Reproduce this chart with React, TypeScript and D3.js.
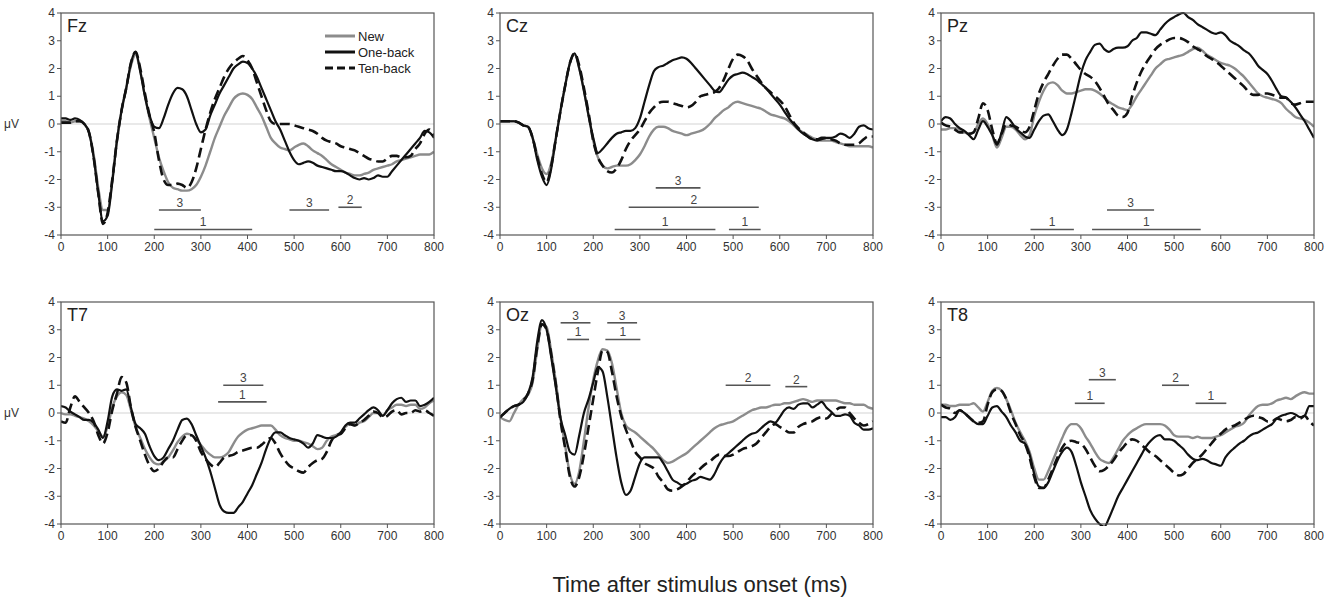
import React from "react";
import * as d3 from "d3";

// sampling grid of the traces, ms
const TIMES = d3.range(0, 801, 10);

const FZ_NEW = [
  0.1, 0.1, 0.05, 0.1, 0.1, 0.0, -0.3, -1.1, -2.3, -3.1,
  -3.1, -2.0, -0.6, 0.5, 1.3, 2.1, 2.5, 1.9, 1.0, 0.2,
  -0.5, -1.2, -1.7, -2.1, -2.3, -2.35, -2.4, -2.4, -2.35, -2.2,
  -1.9, -1.5, -1.0, -0.5, -0.1, 0.3, 0.6, 0.9, 1.05, 1.1,
  1.05, 0.9, 0.6, 0.3, -0.1, -0.5, -0.7, -0.85, -0.9, -0.95,
  -0.85, -0.75, -0.7, -0.8, -0.95, -1.05, -1.15, -1.3, -1.45, -1.55,
  -1.65, -1.75, -1.8, -1.85, -1.85, -1.8, -1.75, -1.65, -1.6, -1.55,
  -1.5, -1.45, -1.35, -1.3, -1.25, -1.2, -1.15, -1.1, -1.1, -1.1,
  -1.0,
];
const FZ_ONE = [
  0.2, 0.2, 0.15, 0.2, 0.15, 0.0, -0.3, -1.2, -2.5, -3.5,
  -3.3, -2.1, -0.6, 0.5, 1.3, 2.2, 2.6, 1.9, 1.0, 0.3,
  -0.1, -0.15, 0.2, 0.7, 1.1, 1.3, 1.25, 1.0, 0.5, 0.0,
  -0.3, -0.2, 0.3, 0.7, 1.1, 1.4, 1.7, 2.0, 2.15, 2.25,
  2.2, 2.0, 1.7, 1.3, 0.9, 0.5, 0.1, -0.2, -0.6, -1.0,
  -1.3, -1.45, -1.4, -1.35, -1.4, -1.5, -1.55, -1.6, -1.65, -1.7,
  -1.7, -1.75, -1.85, -1.95, -2.0, -1.95, -2.0, -1.95, -1.85, -1.9,
  -1.9, -1.7, -1.5, -1.3, -1.1, -0.9, -0.7, -0.5, -0.25, -0.3,
  -0.5,
];
const FZ_TEN = [
  0.05, 0.05, 0.05, 0.1, 0.1, 0.0, -0.3, -1.2, -2.5, -3.6,
  -3.2, -2.0, -0.6, 0.5, 1.3, 2.2, 2.6, 2.0, 1.1, 0.3,
  -0.3, -1.3, -2.0, -2.2, -2.2, -2.15, -2.2, -2.3, -2.1, -1.6,
  -0.9, -0.2, 0.4, 0.9, 1.3, 1.7, 2.0, 2.2, 2.35, 2.45,
  2.3, 2.0, 1.5, 1.0, 0.5, 0.1, 0.0, 0.0, 0.0, 0.0,
  -0.05, -0.1, -0.15, -0.2, -0.25, -0.35, -0.5, -0.6, -0.65, -0.7,
  -0.8, -0.85, -0.9, -0.95, -1.05, -1.15, -1.25, -1.3, -1.35, -1.35,
  -1.25, -1.15, -1.15, -1.2, -1.2, -1.15, -0.9, -0.7, -0.35, -0.2,
  -0.45,
];

const CZ_NEW = [
  0.1, 0.1, 0.1, 0.1, 0.05, -0.05, -0.1, -0.5, -1.1, -1.6,
  -1.8, -1.4, -0.5, 0.5, 1.4, 2.2, 2.5, 2.0, 1.2, 0.3,
  -0.6, -1.2, -1.5, -1.6, -1.55, -1.5, -1.5, -1.5, -1.45, -1.3,
  -1.1, -0.8, -0.45, -0.2, -0.1, -0.1, -0.15, -0.25, -0.3, -0.35,
  -0.4, -0.35, -0.3, -0.25, -0.15, 0.0, 0.2, 0.35, 0.5, 0.6,
  0.75, 0.8, 0.75, 0.7, 0.65, 0.6, 0.55, 0.45, 0.35, 0.3,
  0.25, 0.2, 0.1, -0.05, -0.2, -0.3, -0.4, -0.5, -0.55, -0.6,
  -0.6, -0.6, -0.65, -0.7, -0.75, -0.8, -0.8, -0.8, -0.8, -0.8,
  -0.85,
];
const CZ_ONE = [
  0.1, 0.1, 0.1, 0.1, 0.05, -0.05, -0.1, -0.5, -1.3, -1.9,
  -2.2, -1.6, -0.5, 0.5, 1.4, 2.2, 2.55, 2.0, 1.2, 0.3,
  -0.5, -1.05, -0.9, -0.7, -0.5, -0.35, -0.3, -0.25, -0.25, -0.15,
  0.2, 0.8, 1.4, 1.9, 2.05, 2.1, 2.2, 2.3, 2.35, 2.4,
  2.35, 2.2, 2.0, 1.8, 1.6, 1.4, 1.2, 1.15, 1.35, 1.6,
  1.75, 1.8, 1.85, 1.8, 1.7, 1.6, 1.45, 1.3, 1.1, 0.9,
  0.7, 0.45, 0.2, 0.0, -0.2, -0.35, -0.45, -0.55, -0.6, -0.55,
  -0.5, -0.5, -0.45, -0.35, -0.4, -0.5, -0.35, -0.1, -0.05, -0.15,
  -0.2,
];
const CZ_TEN = [
  0.1, 0.1, 0.1, 0.1, 0.05, -0.05, -0.1, -0.5, -1.2, -1.8,
  -2.1, -1.5, -0.5, 0.5, 1.4, 2.2, 2.55, 2.1, 1.3, 0.4,
  -0.6, -1.2, -1.5, -1.7, -1.75, -1.6, -1.3, -0.9, -0.6, -0.4,
  -0.2, 0.1, 0.4, 0.6, 0.75, 0.8, 0.8, 0.75, 0.7, 0.65,
  0.6, 0.65, 0.8, 1.0, 1.05, 1.1, 1.15, 1.3, 1.6, 2.0,
  2.35, 2.5, 2.45, 2.3, 2.0, 1.75, 1.5, 1.3, 1.15, 1.0,
  0.85, 0.65, 0.35, 0.05, -0.15, -0.3, -0.45, -0.55, -0.55, -0.5,
  -0.5, -0.55, -0.6, -0.7, -0.75, -0.75, -0.75, -0.7, -0.55, -0.45,
  -0.45,
];

const PZ_NEW = [
  -0.2, -0.2, -0.15, -0.15, -0.2, -0.3, -0.35, -0.3, 0.0, 0.2,
  0.0, -0.4, -0.85, -0.5, -0.1, -0.1, -0.2, -0.4, -0.55, -0.4,
  0.3, 0.8, 1.2, 1.45, 1.5, 1.4, 1.2, 1.1, 1.1, 1.15,
  1.2, 1.25, 1.25, 1.2, 1.1, 0.95, 0.8, 0.7, 0.6, 0.55,
  0.5, 0.7, 1.0, 1.25, 1.5, 1.75, 2.0, 2.15, 2.3, 2.35,
  2.4, 2.45, 2.5, 2.6, 2.7, 2.75, 2.65, 2.5, 2.4, 2.3,
  2.2, 2.15, 2.1, 2.0, 1.85, 1.7, 1.5, 1.3, 1.1, 1.0,
  0.95, 0.9, 0.85, 0.75, 0.55, 0.4, 0.25, 0.2, 0.15, 0.05,
  -0.1,
];
const PZ_ONE = [
  0.1, 0.25, 0.2, 0.0, -0.15, -0.25, -0.4, -0.55, -0.2, 0.1,
  -0.1, -0.4, -0.75, -0.3, 0.25, 0.1, -0.15, -0.3, -0.45, -0.5,
  -0.2, 0.1, 0.3, 0.35, 0.1, -0.2, -0.4, -0.2, 0.4, 1.1,
  1.8, 2.3, 2.6, 2.85, 2.9, 2.7, 2.6, 2.7, 2.75, 2.75,
  2.8, 3.0, 3.1, 3.3, 3.3, 3.25, 3.2, 3.4, 3.6, 3.75,
  3.85, 3.95, 4.0, 3.85, 3.75, 3.6, 3.5, 3.4, 3.3, 3.25,
  3.3, 3.2, 3.0, 2.9, 2.8, 2.65, 2.55, 2.35, 2.1, 1.95,
  1.8, 1.55, 1.25, 1.0, 0.95, 0.8, 0.6, 0.35, 0.1, -0.2,
  -0.5,
];
const PZ_TEN = [
  0.05, -0.05, -0.1, -0.2, -0.3, -0.3, -0.35, -0.3, 0.2, 0.75,
  0.5, -0.2, -0.7, -0.35, 0.0, -0.05, -0.1, -0.2, -0.3, -0.1,
  0.5, 1.1, 1.5, 1.8, 2.1, 2.35, 2.5, 2.5, 2.35, 2.15,
  1.95, 1.8, 1.7, 1.55, 1.3, 1.0, 0.7, 0.5, 0.3, 0.25,
  0.4, 1.0, 1.5, 1.9, 2.2, 2.45, 2.7, 2.85, 2.95, 3.05,
  3.1, 3.1, 3.05, 2.95, 2.8, 2.7, 2.6, 2.45, 2.35, 2.25,
  2.1, 1.95, 1.8, 1.65, 1.5, 1.35, 1.15, 1.05, 1.05, 1.1,
  1.1, 1.05, 1.0, 0.95, 0.95, 0.75, 0.7, 0.75, 0.8, 0.8,
  0.8,
];

const T7_NEW = [
  0.0, -0.05, -0.05, -0.1, -0.15, -0.2, -0.3, -0.45, -0.65, -0.85,
  -0.5, 0.2, 0.6, 0.75, 0.65, 0.1, -0.5, -0.9, -1.3, -1.6,
  -1.8, -1.85, -1.75, -1.6, -1.35, -1.05, -0.85, -0.75, -0.8, -0.95,
  -1.15, -1.35, -1.5, -1.6, -1.6, -1.55, -1.4, -1.1, -0.85, -0.7,
  -0.6, -0.55, -0.5, -0.45, -0.45, -0.45, -0.6, -0.8, -0.9, -0.95,
  -1.0, -1.0, -1.05, -1.1, -1.2, -1.3, -1.25, -1.0, -0.85, -0.8,
  -0.7, -0.5, -0.4, -0.45, -0.35, -0.3, -0.15, 0.0, 0.0, -0.1,
  0.1, 0.2, 0.3, 0.3, 0.25, 0.3, 0.3, 0.15, 0.2, 0.35,
  0.45,
];
const T7_ONE = [
  0.25, 0.2, 0.05, -0.05, -0.15, -0.25, -0.25, -0.35, -0.6, -0.9,
  -0.3, 0.6, 0.85, 0.8, 0.85, 0.2, -0.4, -0.55, -0.75, -1.2,
  -1.55, -1.7, -1.6, -1.3, -1.0, -0.6, -0.25, -0.2, -0.4, -0.8,
  -1.2, -1.6, -2.1, -2.7, -3.3, -3.55, -3.6, -3.6, -3.4, -3.2,
  -2.9, -2.6, -2.2, -1.8, -1.3, -0.9, -0.7, -0.7, -0.8, -0.9,
  -0.95, -1.0, -1.1, -1.25, -1.1, -0.8, -0.85, -0.9, -0.9, -0.85,
  -0.7, -0.45, -0.35, -0.35, -0.2, -0.05, 0.1, 0.2, 0.1, -0.1,
  0.1, 0.35, 0.5, 0.55, 0.4, 0.45, 0.45, 0.25, 0.3, 0.4,
  0.55,
];
const T7_TEN = [
  -0.3, -0.35, 0.2, 0.6, 0.4, 0.2, 0.0, -0.3, -0.8, -1.1,
  -0.7, 0.1, 0.7, 1.3, 1.1, 0.2, -0.5, -1.0, -1.5, -1.9,
  -2.1, -2.0, -1.75, -1.6, -1.6, -1.3, -1.0, -0.8, -0.8, -1.0,
  -1.4, -1.65, -1.85, -1.95, -1.8, -1.6, -1.55, -1.5, -1.4, -1.35,
  -1.3, -1.25, -1.25, -1.15, -1.0, -0.9, -1.1, -1.45, -1.7, -1.9,
  -2.0, -2.1, -2.15, -1.95, -1.8, -1.7, -1.65, -1.4, -1.0, -0.8,
  -0.75, -0.55, -0.4, -0.45, -0.35, -0.25, -0.1, 0.05, 0.0, -0.15,
  -0.1, 0.05, 0.1, -0.05, 0.0, 0.0, 0.1, 0.05, 0.1, 0.0,
  -0.1,
];

const OZ_NEW = [
  -0.15, -0.25, -0.3, 0.0, 0.3, 0.5, 0.65, 1.1, 2.3, 3.2,
  3.1, 2.2, 1.1, -0.2, -1.2, -2.2, -2.55, -2.1, -1.0, 0.2,
  1.2, 1.9, 2.3, 2.25, 1.8, 0.9, 0.0, -0.45, -0.6, -0.7,
  -0.85, -1.0, -1.15, -1.3, -1.5, -1.7, -1.8, -1.75, -1.65, -1.55,
  -1.45, -1.3, -1.15, -1.0, -0.85, -0.7, -0.55, -0.45, -0.4, -0.35,
  -0.3, -0.2, -0.1, 0.0, 0.1, 0.15, 0.2, 0.2, 0.25, 0.3,
  0.3, 0.35, 0.35, 0.4, 0.45, 0.5, 0.45, 0.4, 0.45, 0.45,
  0.45, 0.45, 0.45, 0.4, 0.35, 0.35, 0.3, 0.3, 0.3, 0.2,
  0.15,
];
const OZ_ONE = [
  -0.15, 0.0, 0.15, 0.25, 0.3, 0.4, 0.7, 1.3, 2.6, 3.35,
  3.0, 2.0, 0.9, -0.2, -0.8, -1.4, -1.5, -0.8, 0.0, 0.5,
  1.1, 1.65, 1.5, 0.6, -0.5, -1.6, -2.5, -2.95, -2.8, -2.3,
  -1.8, -1.6, -1.6, -1.6, -1.6, -1.8, -2.1, -2.4, -2.5, -2.6,
  -2.55, -2.45, -2.4, -2.3, -2.35, -2.4, -2.2, -1.85, -1.6, -1.45,
  -1.3, -1.15, -1.0, -0.85, -0.75, -0.7, -0.55, -0.4, -0.3, -0.35,
  -0.15, 0.1, 0.2, 0.15, 0.3, 0.35, 0.35, 0.2, 0.3, 0.4,
  0.2, 0.05, -0.1, -0.1, -0.05, -0.1, -0.35, -0.45, -0.6, -0.6,
  -0.55,
];
const OZ_TEN = [
  -0.15, 0.0, 0.15, 0.25, 0.3, 0.45, 0.7, 1.2, 2.4, 3.2,
  3.0, 2.1, 1.0, -0.3, -1.3, -2.3, -2.65, -2.3, -1.5, -0.5,
  0.5, 1.5, 2.25, 2.2, 1.5, 0.6, -0.1, -0.6, -1.0, -1.4,
  -1.6, -1.8, -1.9, -2.0, -2.3, -2.5, -2.75, -2.8, -2.75, -2.65,
  -2.5, -2.3, -2.15, -2.0, -1.85, -1.75, -1.6, -1.5, -1.55, -1.55,
  -1.5, -1.4, -1.3, -1.25, -1.2, -1.1, -0.9, -0.7, -0.5, -0.4,
  -0.5, -0.6, -0.7, -0.7, -0.5, -0.4, -0.35, -0.3, -0.2, -0.15,
  -0.2, -0.05, 0.1, 0.2, 0.2, 0.0, -0.2, -0.35, -0.45, -0.4,
  -0.3,
];

const T8_NEW = [
  0.3, 0.3, 0.25, 0.25, 0.3, 0.3, 0.3, 0.35, 0.2, 0.05,
  0.4, 0.8, 0.9, 0.8, 0.5, 0.1, -0.35, -0.7, -1.0, -1.4,
  -2.0, -2.4, -2.4, -2.1, -1.7, -1.3, -0.9, -0.55, -0.4, -0.4,
  -0.55, -0.85, -1.1, -1.4, -1.65, -1.75, -1.8, -1.6, -1.3, -1.0,
  -0.8, -0.65, -0.55, -0.45, -0.4, -0.4, -0.4, -0.4, -0.45, -0.6,
  -0.8, -0.85, -0.85, -0.85, -0.9, -0.85, -0.9, -0.9, -0.9, -0.85,
  -0.8, -0.7, -0.6, -0.5, -0.45, -0.35, -0.1, 0.1, 0.25, 0.3,
  0.3, 0.35, 0.45, 0.5, 0.55, 0.5, 0.6, 0.7, 0.75, 0.7,
  0.7,
];
const T8_ONE = [
  -0.15, -0.15, -0.25, -0.15, 0.1, 0.0, -0.15, -0.3, -0.4, -0.4,
  -0.1, 0.2, 0.25, 0.05, -0.15, -0.45, -0.7, -1.0, -1.1, -1.5,
  -2.2, -2.65, -2.7, -2.5, -2.1, -1.7, -1.4, -1.25, -1.4, -1.9,
  -2.5, -3.0, -3.5, -3.8, -4.0, -4.1, -3.8, -3.4, -3.0, -2.7,
  -2.4, -2.1, -1.8, -1.5, -1.2, -1.0, -0.85, -0.8, -0.95, -0.95,
  -1.0, -1.15, -1.3, -1.5, -1.65, -1.7, -1.65, -1.7, -1.8, -1.85,
  -1.9, -1.6, -1.4, -1.25, -1.1, -1.0, -0.85, -0.75, -0.7, -0.6,
  -0.5, -0.4, -0.2, -0.1, -0.05, 0.0, -0.05, -0.15, -0.1, 0.25,
  0.25,
];
const T8_TEN = [
  0.3, 0.2, 0.15, 0.0, 0.1, 0.0, -0.15, -0.3, -0.35, -0.3,
  0.3, 0.75, 0.85, 0.8, 0.5, 0.0, -0.4, -0.8, -1.1, -1.6,
  -2.3, -2.7, -2.7, -2.4, -2.0, -1.6, -1.25, -1.05, -1.0, -1.05,
  -1.1, -1.3, -1.6, -1.9, -2.1, -2.05, -1.9, -1.7, -1.45, -1.25,
  -1.05, -0.95, -1.0, -1.15, -1.3, -1.45, -1.55, -1.7, -1.85, -2.0,
  -2.15, -2.25, -2.2, -2.0, -1.8, -1.65, -1.5, -1.3, -1.1, -0.9,
  -0.75, -0.6, -0.5, -0.45, -0.35, -0.25, -0.15, -0.1, -0.15, -0.2,
  -0.3, -0.3, -0.2, -0.25, -0.3, -0.25, -0.15, -0.2, -0.1, -0.3,
  -0.45,
];

// significance bars: label, start ms, end ms, level in µV
const FZ_BARS = [
  ["3", 210, 300, -3.1], ["1", 200, 410, -3.8], ["3", 490, 575, -3.1], ["2", 595, 645, -3.0],
];
const CZ_BARS = [
  ["3", 334, 430, -2.3], ["2", 276, 555, -3.0], ["1", 246, 462, -3.8], ["1", 491, 559, -3.8],
];
const PZ_BARS = [["1", 192, 285, -3.8], ["3", 356, 457, -3.1], ["1", 324, 557, -3.8]];
const T7_BARS = [["3", 348, 434, 1.0], ["1", 337, 441, 0.4]];
const OZ_BARS = [
  ["3", 130, 194, 3.25], ["1", 144, 191, 2.65], ["3", 230, 294, 3.25], ["1", 226, 301, 2.65],
  ["2", 484, 580, 1.0], ["2", 612, 659, 0.95],
];
const T8_BARS = [["3", 317, 375, 1.2], ["1", 287, 351, 0.35], ["2", 474, 532, 1.0], ["1", 546, 612, 0.35]];

const LEGEND = ["New", "One-back", "Ten-back"];

const FONT = "'Liberation Sans', Arial, Helvetica, sans-serif";
const COL_X = [61, 500, 941];
const ROW_Y = [13, 302];
const PW = 373;
const PH = 222;

const PANELS = [
  { name: "Fz", col: 0, row: 0, nw: FZ_NEW, one: FZ_ONE, ten: FZ_TEN, bars: FZ_BARS },
  { name: "Cz", col: 1, row: 0, nw: CZ_NEW, one: CZ_ONE, ten: CZ_TEN, bars: CZ_BARS },
  { name: "Pz", col: 2, row: 0, nw: PZ_NEW, one: PZ_ONE, ten: PZ_TEN, bars: PZ_BARS },
  { name: "T7", col: 0, row: 1, nw: T7_NEW, one: T7_ONE, ten: T7_TEN, bars: T7_BARS },
  { name: "Oz", col: 1, row: 1, nw: OZ_NEW, one: OZ_ONE, ten: OZ_TEN, bars: OZ_BARS },
  { name: "T8", col: 2, row: 1, nw: T8_NEW, one: T8_ONE, ten: T8_TEN, bars: T8_BARS },
];

function Panel({ p }: { p: any }) {
  const x0 = COL_X[p.col];
  const y0 = ROW_Y[p.row];
  const x = d3.scaleLinear().domain([0, 800]).range([x0, x0 + PW]);
  const y = d3.scaleLinear().domain([-4, 4]).range([y0 + PH, y0]);
  const line = d3
    .line<number>()
    .x((d, i) => x(TIMES[i]))
    .y((d) => y(d))
    .curve(d3.curveMonotoneX);
  const clipId = "clip-" + p.name;

  return (
    <g>
      <defs>
        <clipPath id={clipId}>
          <rect x={x0} y={y0 - 2} width={PW} height={PH + 4} />
        </clipPath>
      </defs>
      <line x1={x0} x2={x0 + PW} y1={y(0)} y2={y(0)} stroke="#d4d4d4" strokeWidth={1.2} />
      <g clipPath={`url(#${clipId})`} fill="none" strokeLinejoin="round">
        <path d={line(p.nw) || ""} stroke="#8c8c8c" strokeWidth={2.4} />
        <path d={line(p.ten) || ""} stroke="#111" strokeWidth={2.6} strokeDasharray="10,5" />
        <path d={line(p.one) || ""} stroke="#111" strokeWidth={2.2} />
      </g>
      <rect x={x0} y={y0} width={PW} height={PH} fill="none" stroke="#555" strokeWidth={1.2} />
      {y.ticks(8).map((t) => (
        <g key={"y" + t}>
          <line x1={x0 - 4} x2={x0} y1={y(t)} y2={y(t)} stroke="#555" />
          <text x={x0 - 6} y={y(t) + 4} textAnchor="end" fontSize={12} fill="#333" fontFamily={FONT}>
            {t}
          </text>
        </g>
      ))}
      {x.ticks(8).map((t) => (
        <g key={"x" + t}>
          <line x1={x(t)} x2={x(t)} y1={y0 + PH} y2={y0 + PH + 4} stroke="#555" />
          <text x={x(t)} y={y0 + PH + 16} textAnchor="middle" fontSize={12} fill="#333" fontFamily={FONT}>
            {t}
          </text>
        </g>
      ))}
      {p.bars.map((b: any, i: number) => (
        <g key={"b" + i}>
          <line x1={x(b[1])} x2={x(b[2])} y1={y(b[3])} y2={y(b[3])} stroke="#555" strokeWidth={1.6} />
          <text
            x={x((b[1] + b[2]) / 2)}
            y={y(b[3]) - 3}
            textAnchor="middle"
            fontSize={12}
            fill="#444"
            fontFamily={FONT}
          >
            {b[0]}
          </text>
        </g>
      ))}
      <text x={x0 + 6} y={y0 + 19} fontSize={18} fill="#222" fontFamily={FONT}>
        {p.name}
      </text>
      {p.col === 0 && (
        <text x={4} y={y(0) + 4} fontSize={12} fill="#333" fontFamily={FONT}>
          μV
        </text>
      )}
    </g>
  );
}

function Legend() {
  const lx = COL_X[0] + 264;
  const ly = ROW_Y[0] + 23;
  const styles = [
    { stroke: "#8c8c8c", dash: "" },
    { stroke: "#111", dash: "" },
    { stroke: "#111", dash: "8,4" },
  ];
  return (
    <g>
      {LEGEND.map((name, i) => (
        <g key={name}>
          <line
            x1={lx}
            x2={lx + 30}
            y1={ly + i * 16}
            y2={ly + i * 16}
            stroke={styles[i].stroke}
            strokeWidth={3}
            strokeDasharray={styles[i].dash}
          />
          <text x={lx + 33} y={ly + i * 16 + 4.5} fontSize={13} fill="#222" fontFamily={FONT}>
            {name}
          </text>
        </g>
      ))}
    </g>
  );
}

export default function App() {
  return (
    <svg
      width={1336}
      height={603}
      style={{ position: "absolute", left: 0, top: 0, background: "#fff" }}
    >
      {PANELS.map((p) => (
        <Panel key={p.name} p={p} />
      ))}
      <Legend />
      <text x={700} y={592} textAnchor="middle" fontSize={22} fill="#222" fontFamily={FONT}>
        Time after stimulus onset (ms)
      </text>
    </svg>
  );
}
